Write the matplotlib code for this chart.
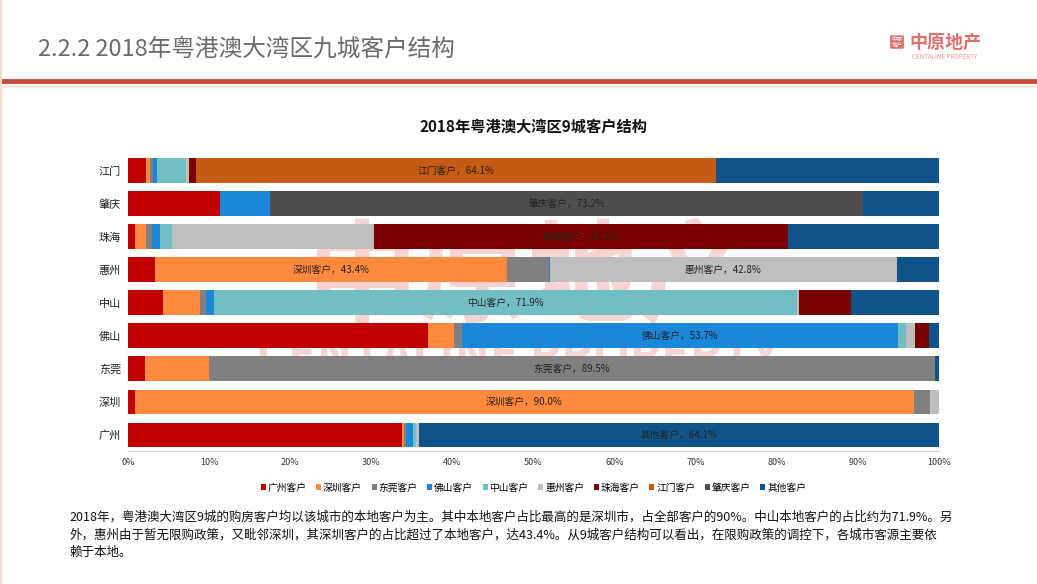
import matplotlib.pyplot as plt
import numpy as np

plt.rcParams['font.family'] = ['Noto Sans CJK SC', 'DejaVu Sans']

# cities, bottom to top
cities = ["广州", "深圳", "东莞", "佛山", "中山", "惠州", "珠海", "肇庆", "江门"]
series = ["广州客户", "深圳客户", "东莞客户", "佛山客户", "中山客户",
          "惠州客户", "珠海客户", "江门客户", "肇庆客户", "其他客户"]
colors = ["#C00000", "#FF8A3D", "#808080", "#1A87D8", "#72BEC5",
          "#BFBFBF", "#7A0000", "#C55A11", "#4D4D4D", "#0F5388"]

# share (%) of each customer origin, per city (same order as cities)
guangzhou = [33.8, 0.3, 0.2, 0.9, 0.3, 0.4, 0.0, 0.0, 0.0, 64.1]
shenzhen  = [0.9, 96.0, 2.0, 0.0, 0.0, 1.1, 0.0, 0.0, 0.0, 0.0]
dongguan  = [2.1, 7.9, 89.5, 0.0, 0.0, 0.0, 0.0, 0.0, 0.0, 0.5]
foshan    = [37.0, 3.2, 1.0, 53.7, 1.1, 1.1, 1.7, 0.0, 0.0, 1.2]
zhongshan = [4.3, 4.6, 0.7, 1.0, 71.9, 0.2, 6.5, 0.0, 0.0, 10.8]
huizhou   = [3.3, 43.4, 5.2, 0.1, 0.0, 42.8, 0.0, 0.0, 0.0, 5.2]
zhuhai    = [0.9, 1.3, 0.8, 1.0, 1.4, 24.9, 51.1, 0.0, 0.0, 18.6]
zhaoqing  = [11.3, 0.0, 0.0, 6.2, 0.0, 0.0, 0.0, 0.0, 73.2, 9.3]
jiangmen  = [2.2, 0.5, 0.4, 0.5, 3.6, 0.3, 0.9, 64.1, 0.0, 27.5]

# labelled segments: (city index, series index, label text)
labels = [(8, 7, "江门客户，64.1%"), (7, 8, "肇庆客户，73.2%"), (6, 6, "珠海客户，51.1%"),
          (5, 1, "深圳客户，43.4%"), (5, 5, "惠州客户，42.8%"), (4, 4, "中山客户，71.9%"),
          (3, 3, "佛山客户，53.7%"), (2, 2, "东莞客户，89.5%"), (1, 1, "深圳客户，90.0%"),
          (0, 9, "其他客户，64.1%")]

data = np.array([guangzhou, shenzhen, dongguan, foshan, zhongshan,
                 huizhou, zhuhai, zhaoqing, jiangmen]) / 100.0

fig = plt.figure(figsize=(10.37, 5.84), dpi=100)
fig.patch.set_facecolor("white")

# page header
fig.text(0.037, 0.915, "2.2.2 2018年粤港澳大湾区九城客户结构", fontsize=17,
         color="#6B6B6B", va="center", fontstretch="condensed")
fig.add_artist(plt.Line2D([0, 1], [0.861, 0.861], color="#CC4B42", lw=3.5))
fig.add_artist(plt.Line2D([0, 1], [0.852, 0.852], color="#F6DCCB", lw=1))
fig.add_artist(plt.Line2D([0.001, 0.001], [0, 1], color="#F6DCCB", lw=1.5))
fig.text(0.865, 0.928, "中原\n地产", fontsize=4, color="white", va="center", ha="center",
         linespacing=1.0,
         bbox=dict(boxstyle="round,pad=0.25", fc="#E0706B", ec="none"))
fig.text(0.877, 0.928, "中原地产", fontsize=13, color="#E0706B", va="center",
         fontweight="bold")
fig.text(0.879, 0.902, "CENTALINE PROPERTY", fontsize=4.5, color="#E89A96", va="center")

# watermark behind the chart
fig.text(0.51, 0.52, "中原地产", fontsize=80, color="#F6C9C6", ha="center",
         va="center", fontweight="bold", alpha=0.8, zorder=0)
fig.text(0.50, 0.39, "CENTALINE PROPERTY", fontsize=34, color="#F6C9C6", ha="center",
         va="center", fontweight="bold", alpha=0.8, zorder=0)

ax = fig.add_axes([0.1234, 0.2269, 0.782, 0.5094])
ax.patch.set_alpha(0)
ax.set_zorder(1)

y = np.arange(len(cities))
left = np.zeros(len(cities))
for k, name in enumerate(series):
    ax.barh(y, data[:, k], left=left, height=0.75, color=colors[k], label=name)
    left += data[:, k]

for ci, si, txt in labels:
    start = data[ci, :si].sum()
    ax.text(start + data[ci, si] / 2, ci, txt, ha="center", va="center",
            fontsize=7, color="#222222")

ax.set_xlim(0, 1)
ax.set_ylim(-0.5, len(cities) - 0.5)
ax.set_yticks(y)
ax.set_yticklabels(cities, fontsize=8, color="#222222")
ax.set_xticks(np.arange(0, 1.01, 0.1))
ax.set_xticklabels([f"{i}%" for i in range(0, 101, 10)], fontsize=6.5, color="#333333")
ax.tick_params(length=0, pad=5)
for s in ["top", "right", "left"]:
    ax.spines[s].set_visible(False)
ax.spines["bottom"].set_color("#D9D9D9")

ax.set_title("2018年粤港澳大湾区9城客户结构", fontsize=11, fontweight="bold",
             color="#111111", pad=16)

ax.legend(loc="upper center", bbox_to_anchor=(0.5, -0.075), ncol=10, frameon=False,
          fontsize=7, handlelength=0.5, handleheight=0.5, handletextpad=0.2,
          columnspacing=1.0)

para = ("2018年，粤港澳大湾区9城的购房客户均以该城市的本地客户为主。其中本地客户占比最高的是深圳市，占全部客户的90%。中山本地客户的占比约为71.9%。另\n"
        "外，惠州由于暂无限购政策，又毗邻深圳，其深圳客户的占比超过了本地客户，达43.4%。从9城客户结构可以看出，在限购政策的调控下，各城市客源主要依\n"
        "赖于本地。")
fig.text(0.067, 0.125, para, fontsize=9, color="#111111", va="top", linespacing=1.45)

fig.savefig("out.png", dpi=100)
